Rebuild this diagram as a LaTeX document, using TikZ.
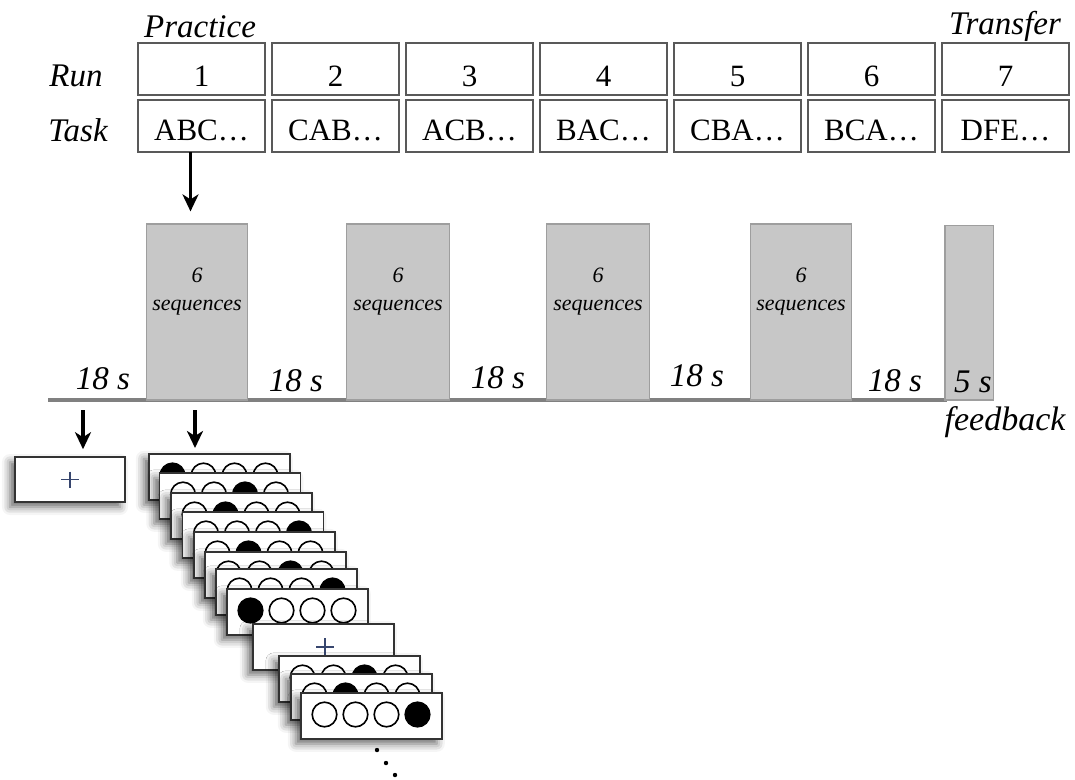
\documentclass[tikz,border=0pt]{standalone}
\usepackage{fontspec}
\setmainfont{Liberation Serif}
\usetikzlibrary{arrows.meta,shadows.blur}
\definecolor{pc}{RGB}{55,70,110}
\begin{document}
\begin{tikzpicture}[x=1pt,y=-1pt,
  hbox/.style={draw=black!65, line width=1.8pt, minimum width=127pt, minimum height=52pt, inner sep=0pt, fill=white},
  num/.style={font=\fontsize{31}{36}\selectfont, anchor=base, inner sep=0pt},
  ilbl/.style={font=\fontsize{33}{40}\selectfont\itshape, anchor=base, inner sep=0pt},
  seq/.style={font=\fontsize{22}{26}\selectfont\itshape, anchor=base, inner sep=0pt, text=black},
  block/.style={draw=black!38, fill=black!22, line width=1.2pt, inner sep=0pt},
  arr/.style={line width=3.4pt, -{Stealth[length=17pt,width=16pt,inset=5pt]}},
  shad/.style={blur shadow={shadow xshift=-5pt, shadow yshift=-5pt, shadow blur radius=8pt, shadow opacity=60}},
  card/.style={draw=black!80, fill=white, line width=1.6pt, minimum width=141pt, minimum height=46pt, inner sep=0pt, shad},
  pluscol/.style={draw=pc, line width=1.3pt},
  tl/.style={draw=black!50, line width=4pt}
]
\useasboundingbox (0,0) rectangle (1075,779);

% header labels
\node[ilbl] (prac) at (200,37) {Practice};
\node[ilbl] (trans) at (1005,34.5) {Transfer};
\node[ilbl] (runl) at (76,86) {Run};
\node[ilbl] (taskl) at (78,141) {Task};

% run / task boxes
\foreach \cx/\r/\t [count=\k] in {201.5/1/ABC…, 335.5/2/CAB…, 469.5/3/ACB…, 603.5/4/BAC…, 737.5/5/CBA…, 871.5/6/BCA…, 1005.5/7/DFE…}{
  \node[hbox] (r\k) at (\cx,69) {};
  \node[hbox] (t\k) at (\cx,126) {};
  \node[num] (rn\k) at (\cx,86) {\r};
  \node[num] (tn\k) at (\cx,140) {\t};
}

% timeline
\coordinate (ls) at (48,400);
\coordinate (le) at (947,400);
\draw[tl] (ls) -- (le);

% gray blocks
\node[block, minimum width=100.5pt, minimum height=176pt] (b1) at (197,312) {};
\node[block, minimum width=103.5pt, minimum height=176pt] (b2) at (398,312) {};
\node[block, minimum width=102.5pt, minimum height=176pt] (b3) at (598,312) {};
\node[block, minimum width=101.5pt, minimum height=176pt] (b4) at (801,312) {};
\node[block, minimum width=48.6pt, minimum height=174.5pt] (b5) at (969.3,312.75) {};

\foreach \bx [count=\k] in {197,398,598,801}{
  \node[seq] (s6\k) at (\bx,282) {6};
  \node[seq] (sq\k) at (\bx,310) {sequences};
}

% durations
\node[ilbl] (d1) at (103,389) {18 s};
\node[ilbl] (d2) at (296,391) {18 s};
\node[ilbl] (d3) at (498,388) {18 s};
\node[ilbl] (d4) at (697,386.5) {18 s};
\node[ilbl] (d5) at (895,391) {18 s};
\node[ilbl] (d6) at (973,392) {5 s};
\node[font=\fontsize{34}{40}\selectfont\itshape, anchor=base, inner sep=0pt] (fb) at (1005,430.7) {feedback};

% arrow from task 1 to block 1
\coordinate (ta) at (190.5,152);
\draw[arr, shorten >=12pt] (ta) -- (ta |- b1.north);

% fixation box
\node[card, minimum width=110pt, minimum height=45pt] (fix) at (70,479.5) {};
\draw[pluscol] ([shift={(-9,0)}]fix.center) -- ([shift={(9,0)}]fix.center);
\draw[pluscol] ([shift={(0,-8)}]fix.center) -- ([shift={(0,8)}]fix.center);

% arrows below timeline
\coordinate (fa) at (83,410);
\coordinate (ca) at (195,410);

% card stack
\foreach \x/\y/\b [count=\n] in {148/453/1, 158.5/472/3, 170/492/2, 181.5/511/4, 193/531/2, 204/551/3, 215/568/4, 226/588/1, 252/623/0, 278/655/3, 290/673/2, 300/692/4}{
  \node[card, anchor=north west] (c\n) at (\x,\y) {};
  \ifnum\b=0
    \draw[pluscol] ([shift={(64,24)}]c\n.north west) -- ([shift={(82,24)}]c\n.north west);
    \draw[pluscol] ([shift={(73,15)}]c\n.north west) -- ([shift={(73,33)}]c\n.north west);
  \else
    \foreach \i in {1,...,4}{
      \ifnum\i=\b \def\fc{black}\else\def\fc{white}\fi
      \draw[line width=1.6pt, fill=\fc] ([shift={({24.5+31*(\i-1)},22.5)}]c\n.north west) circle[radius=12.3pt];
    }
  \fi
}

\draw[arr, shorten >=7pt] (fa) -- (fa |- fix.north);
\draw[arr, shorten >=5pt] (ca) -- (ca |- c1.north);

% continuation dots
\fill (377,750) circle[radius=2.2pt];
\fill (386,763) circle[radius=2.2pt];
\fill (395,775) circle[radius=2.2pt];
\end{tikzpicture}
\end{document}
